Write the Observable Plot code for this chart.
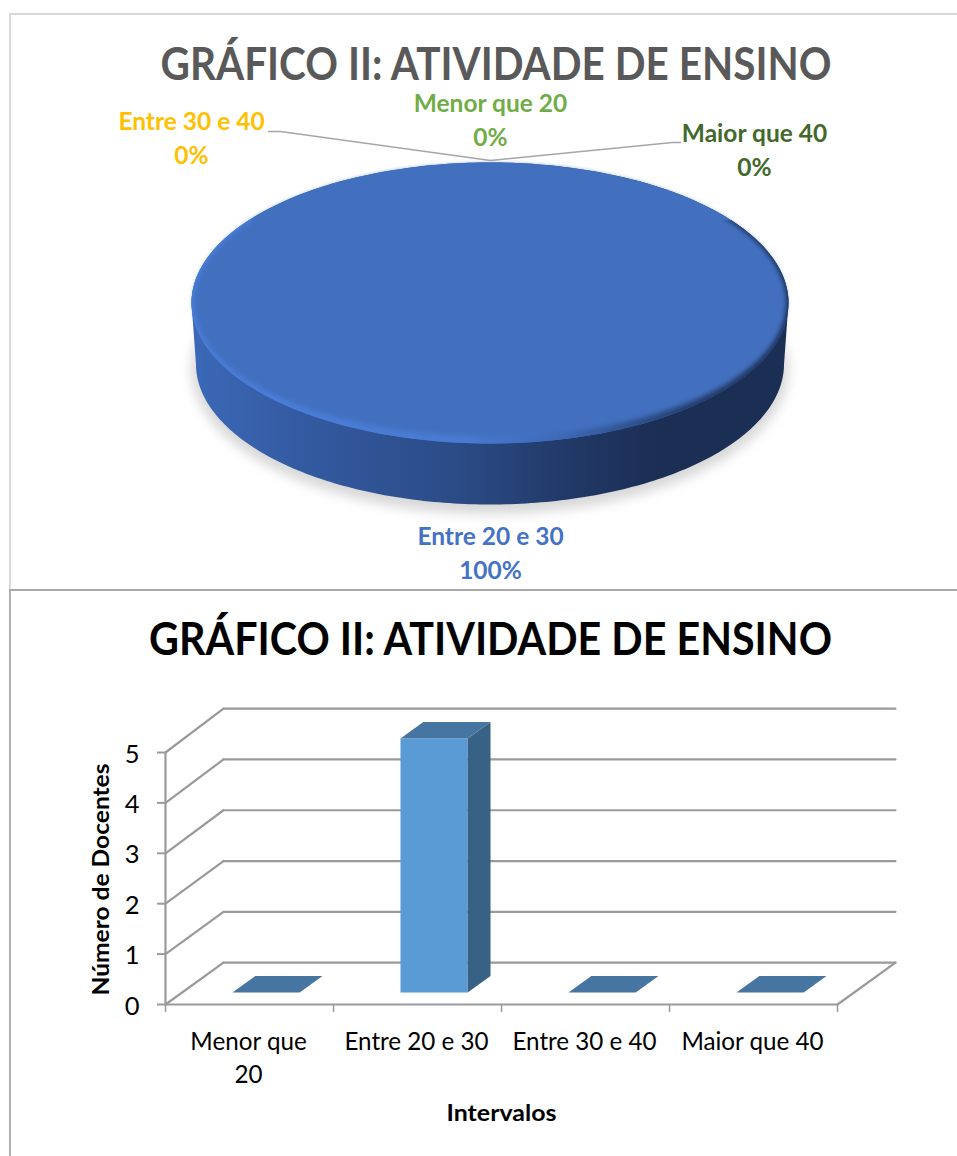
<!DOCTYPE html>
<html><head><meta charset="utf-8">
<script src="https://cdn.jsdelivr.net/npm/d3@7"></script>
<script src="https://cdn.jsdelivr.net/npm/@observablehq/plot@0.6"></script>
<style>
html,body{margin:0;padding:0;background:#fff}
#wrap{position:relative;width:957px;height:1156px;overflow:hidden}
#wrap svg{position:absolute;left:0;background:transparent;max-width:none}
.b{position:absolute}
</style></head><body><div id="wrap"></div>
<script>
const chartTitle = "GRÁFICO II: ATIVIDADE DE ENSINO";
const categories = ["Menor que 20", "Entre 20 e 30", "Entre 30 e 40", "Maior que 40"];
const axisLabels = ["Menor que\n20", "Entre 20 e 30", "Entre 30 e 40", "Maior que 40"];
const shares = [0, 100, 0, 0];
const counts = [0, 5, 0, 0];
const yTicks = [0, 1, 2, 3, 4, 5];
const xAxisTitle = "Intervalos";
const yAxisTitle = "Número de Docentes";

const FONT = "Lato, Carlito, Calibri, sans-serif";
const wrap = document.getElementById("wrap");

function line(css){const d=document.createElement("div");d.className="b";d.style.cssText=css;wrap.appendChild(d);}
function fit(svg, str, len){
  d3.select(svg).selectAll("text").filter(function(){return this.textContent === str;})
    .attr("textLength", len).attr("lengthAdjust", "spacingAndGlyphs");
}

/* ---------- top panel: pie ---------- */
const W = 957, H1 = 590;
const labelColors = ["#70ad47", "#4472c4", "#ffc000", "#43682b"];
const px = v => (v - 489.5) / 298.5, py = v => (302.5 - v) / 140.5;
const labelAt = [[490, 118], [490, 550.5], [191, 136], [754, 148]];
const leader = [[268,131],[280,131],[490,160],[672,142],[680,142]];
const slices = d3.pie().sort(null)(shares).filter(d => d.value > 0);
function arcPts(a0, a1, cy, rx, ry, n = 180) {
  return d3.range(n + 1).map(i => {
    const t = a0 + (a1 - a0) * i / n;
    return {x: rx * Math.sin(t), y: cy + ry * Math.cos(t)};
  });
}
const whole = slices[0];
const topFace = arcPts(whole.startAngle, whole.endAngle, 0, 1, 1);
const rimBand = arcPts(Math.PI - 2.2, Math.PI + 2.2, 0, 1, 1);
// bevel: the soft inner face meets the outer edge at the back and leaves a rim at the front
const softFace = d3.range(241).map(i => {
  const t = whole.startAngle + (whole.endAngle - whole.startAngle) * i / 240;
  const f = Math.pow((1 - Math.cos(t)) / 2, 1.5);
  return {x: Math.sin(t) * (1 - 0.022 * f), y: Math.cos(t) * (1 - 0.05 * f) - 0.012 * (1 - f)};
});
const sideWall = arcPts(Math.PI / 2, 3 * Math.PI / 2, -0.434, 0.985, 1)
  .concat(arcPts(3 * Math.PI / 2, 5 * Math.PI / 2, 0, 1, 1));
const shadow = arcPts(whole.startAngle, whole.endAngle, -0.47, 1.0, 1.03);
const poly = (pts, fill, extra = {}) => Plot.line(pts, {x: "x", y: "y", fill, stroke: "none", ...extra});

const pie = Plot.plot({
  width: W, height: H1,
  marginLeft: 191, marginRight: 169, marginTop: 162, marginBottom: 147,
  x: {domain: [-1, 1], axis: null}, y: {domain: [-1, 1], axis: null},
  style: {fontFamily: FONT, background: "transparent"},
  marks: [
    () => d3.create("svg:defs").html(`
      <linearGradient id="side" x1="0" x2="1" y1="0" y2="0">
        <stop offset="0" stop-color="#3b69b7"/><stop offset=".2" stop-color="#33599f"/>
        <stop offset=".45" stop-color="#2b4b86"/><stop offset=".62" stop-color="#223a69"/>
        <stop offset=".78" stop-color="#1b2e54"/><stop offset="1" stop-color="#1b2e54"/>
      </linearGradient>
      <linearGradient id="rim" x1="0" x2="1" y1="0" y2="0">
        <stop offset="0" stop-color="#4a7fdc"/><stop offset=".45" stop-color="#4a7cd4"/>
        <stop offset=".62" stop-color="#3d69b6"/><stop offset=".82" stop-color="#25406f"/>
        <stop offset="1" stop-color="#1c3057"/>
      </linearGradient>`).node(),
    poly(shadow, "#c9c9c9", {imageFilter: "blur(6px)", fillOpacity: 0.75}),
    poly(sideWall, "url(#side)"),
    poly(topFace, "#4270bf"),
    poly(rimBand, "url(#rim)"),
    poly(softFace, "#4270bf", {imageFilter: "blur(2.5px)"}),
    Plot.line(leader, {x: d => px(d[0]), y: d => py(d[1]), stroke: "#a6a6a6", strokeWidth: 1.5}),
    Plot.text(categories.map((c, i) => `${c}\n${shares[i]}%`), {
      x: (d, i) => px(labelAt[i][0]), y: (d, i) => py(labelAt[i][1]),
      fill: labelColors, fontSize: 24.5, fontWeight: 700, lineHeight: 1.38, textAnchor: "middle"
    }),
    Plot.text([chartTitle], {frameAnchor: "top", dx: 6, dy: -97, fontSize: 46, fontWeight: 700, fill: "#595959", lineAnchor: "middle"})
  ]
});
pie.style.top = "0px";
wrap.appendChild(pie);
fit(pie, chartTitle, 671);

/* ---------- bottom panel: oblique 3D column chart ---------- */
const H2 = 566;
const depthX = 0.345, depthY = 0.83;               // oblique projection in data units
const P = (c, v, z) => ({x: c + z * depthX, y: v * (z > 0 ? 1.008 : 1) + z * depthY});
const gridBack = yTicks.map(v => [P(0, v, 1), P(4, v, 1)]);
const gridSide = yTicks.map(v => [P(0, v, 0), P(0, v, 1)]);
const barW = 0.4, zA = 0.286, zB = 0.68;
const seg = (pts, o = {}) => Plot.line(pts, {x: "x", y: "y", stroke: "#9a9a9a", strokeWidth: 2.2, ...o});
const barMarks = counts.flatMap((v, i) => {
  const l = i + 0.5 - barW / 2, r = i + 0.5 + barW / 2;
  const out = [];
  if (v > 0) {
    out.push(poly([P(l,0,zA),P(r,0,zA),P(r,v,zA),P(l,v,zA),P(l,0,zA)], "#5b9bd5"));
    out.push(poly([P(r,0,zA),P(r,0,zB),P(r,v,zB),P(r,v,zA),P(r,0,zA)], "#386285"));
  }
  out.push(poly([P(l,v,zA),P(r,v,zA),P(r,v,zB),P(l,v,zB),P(l,v,zA)], "#4675a2"));
  return out;
});

const bars = Plot.plot({
  width: W, height: H2,
  marginLeft: 165, marginRight: 120, marginTop: 162, marginBottom: 152,
  x: {domain: [0, 4]}, y: {domain: [0, 5]},
  style: {fontFamily: FONT, background: "transparent", color: "#000"},
  marks: [
    ...gridBack.map(s => seg(s)),
    ...gridSide.map(s => seg(s)),
    seg([P(4, 0, 0), P(4, 0, 1)]),
    seg([P(0, 0, 0), P(4, 0, 0)]),
    Plot.axisY({ticks: yTicks, tickSize: 8, stroke: "#9a9a9a", strokeWidth: 2, tickFormat: () => "", label: null}),
    Plot.axisY({ticks: yTicks, tickSize: 0, tickPadding: 26, dy: 2, fontSize: 25.5, fill: "#000", label: null, tickFormat: d3.format("d")}),
    seg([P(0, 0, 0), P(0, 5, 0)]),
    Plot.axisX({ticks: [0, 1, 2, 3, 4], tickSize: 8, label: null, stroke: "#9a9a9a", strokeWidth: 1.5, tickFormat: () => ""}),
    ...barMarks,
    Plot.text(axisLabels, {x: (d, i) => i + 0.5, y: 0, fontSize: 24.2, lineHeight: 1.36, lineAnchor: "top", dy: 22, dx: -1, fill: "#000"}),
    Plot.text([xAxisTitle], {frameAnchor: "bottom", dy: 109, fontSize: 23, fontWeight: 700, fill: "#000", lineAnchor: "middle"}),
    Plot.text([yAxisTitle], {frameAnchor: "left", dx: -64, dy: 1, rotate: -90, textAnchor: "middle", fontSize: 23, fontWeight: 700, fill: "#000"}),
    Plot.text([chartTitle], {frameAnchor: "top", dx: -11, dy: -112, fontSize: 46, fontWeight: 700, fill: "#000", lineAnchor: "middle"})
  ]
});
bars.style.top = H1 + "px";
wrap.appendChild(bars);
fit(bars, chartTitle, 683);
fit(bars, yAxisTitle, 232);
fit(bars, xAxisTitle, 110);

line("left:9px;top:13px;width:948px;height:2px;background:#d9d9d9");
line("left:9px;top:13px;width:2px;height:576px;background:#d9d9d9");
line("left:9px;top:589px;width:948px;height:2px;background:#a9a9a9");
line("left:9px;top:590px;width:1.5px;height:566px;background:#b0b0b0");
</script></body></html>
